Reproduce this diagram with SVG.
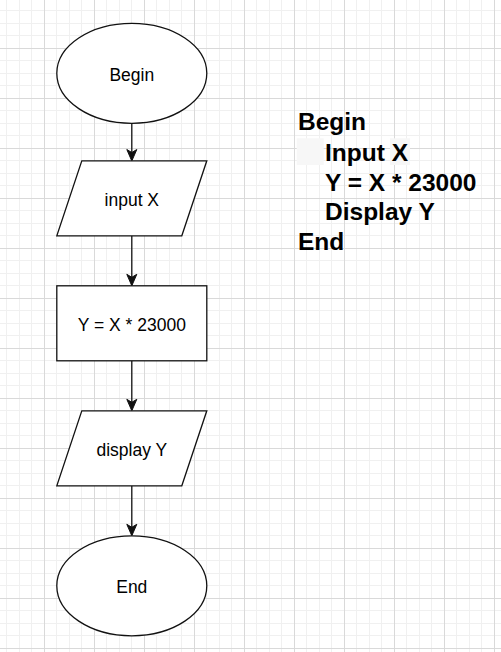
<svg xmlns="http://www.w3.org/2000/svg" width="501" height="652" viewBox="0 0 501 652">
<style>
.minor{stroke:#f0f0f0;stroke-width:1;fill:none}
.major{stroke:#d9d9d9;stroke-width:1;fill:none}
.shape{fill:#fff;stroke:#111;stroke-width:1.3}
.lbl{font-family:"Liberation Sans",Arial,sans-serif;font-size:17.5px;fill:#000;text-anchor:middle}
.code{font-family:"Liberation Sans",Arial,sans-serif;font-size:24.5px;font-weight:bold;fill:#000}
.conn{stroke:#111;stroke-width:1.3;fill:none;marker-end:url(#arr)}
</style>
<defs>
<marker id="arr" markerUnits="userSpaceOnUse" markerWidth="14" markerHeight="12" viewBox="-12 -6 14 12" refX="-1" refY="0" orient="auto" overflow="visible">
<path d="M0 0L-11.5 -5L-8.5 0L-11.5 5Z" fill="#111" stroke="#111" stroke-width="1"/>
</marker>
</defs>
<rect width="501" height="652" fill="#fff"/>
<g id="grid">
<path class="minor" d="M6.5 0V652M19.5 0V652M31.5 0V652M56.5 0V652M69.5 0V652M81.5 0V652M106.5 0V652M119.5 0V652M131.5 0V652M156.5 0V652M169.5 0V652M181.5 0V652M206.5 0V652M219.5 0V652M231.5 0V652M256.5 0V652M269.5 0V652M281.5 0V652M306.5 0V652M319.5 0V652M331.5 0V652M356.5 0V652M369.5 0V652M381.5 0V652M406.5 0V652M419.5 0V652M431.5 0V652M456.5 0V652M469.5 0V652M481.5 0V652M0 10.5H501M0 23.5H501M0 35.5H501M0 60.5H501M0 73.5H501M0 85.5H501M0 110.5H501M0 123.5H501M0 135.5H501M0 160.5H501M0 173.5H501M0 185.5H501M0 210.5H501M0 223.5H501M0 235.5H501M0 260.5H501M0 273.5H501M0 285.5H501M0 310.5H501M0 323.5H501M0 335.5H501M0 360.5H501M0 373.5H501M0 385.5H501M0 410.5H501M0 423.5H501M0 435.5H501M0 460.5H501M0 473.5H501M0 485.5H501M0 510.5H501M0 523.5H501M0 535.5H501M0 560.5H501M0 573.5H501M0 585.5H501M0 610.5H501M0 623.5H501M0 635.5H501"/>
<path class="major" d="M44.5 0V652M94.5 0V652M144.5 0V652M194.5 0V652M244.5 0V652M294.5 0V652M344.5 0V652M394.5 0V652M444.5 0V652M494.5 0V652M0 48.5H501M0 98.5H501M0 148.5H501M0 198.5H501M0 248.5H501M0 298.5H501M0 348.5H501M0 398.5H501M0 448.5H501M0 498.5H501M0 548.5H501M0 598.5H501M0 648.5H501"/>
</g>
<g id="connectors">
<path class="conn" d="M131.8 123.3V160"/>
<path class="conn" d="M131.8 235.8V284.8"/>
<path class="conn" d="M131.8 360.8V409.8"/>
<path class="conn" d="M131.8 485.8V534.8"/>
</g>
<g id="begin">
<ellipse class="shape" cx="131.8" cy="73.3" rx="75" ry="50"/>
<text class="lbl" x="131.8" y="80.8">Begin</text>
</g>
<g id="input">
<polygon class="shape" points="81.8,160.8 206.8,160.8 181.8,235.8 56.8,235.8"/>
<text class="lbl" x="131.8" y="205.8">input X</text>
</g>
<g id="compute">
<rect class="shape" x="56.8" y="285.8" width="150" height="75"/>
<text class="lbl" x="131.8" y="330.8">Y = X * 23000</text>
</g>
<g id="display">
<polygon class="shape" points="81.8,410.8 206.8,410.8 181.8,485.8 56.8,485.8"/>
<text class="lbl" x="131.8" y="455.8">display Y</text>
</g>
<g id="end">
<ellipse class="shape" cx="131.8" cy="585.8" rx="75" ry="50"/>
<text class="lbl" x="131.8" y="593.3">End</text>
</g>
<g id="pseudocode">
<rect x="296.7" y="138.3" width="27" height="26.7" fill="#f7f7f7"/>
<rect x="390" y="138.3" width="20" height="26.7" fill="#f7f7f7"/>
<text class="code" x="298" y="130">Begin</text>
<text class="code" x="325" y="160.5">Input X</text>
<text class="code" x="325" y="190.5">Y = X * 23000</text>
<text class="code" x="325" y="220">Display Y</text>
<text class="code" x="298" y="249.5">End</text>
</g>
</svg>
